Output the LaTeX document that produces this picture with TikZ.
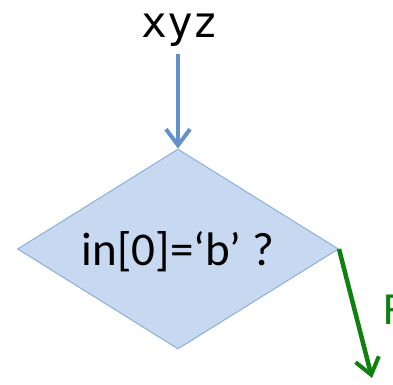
\documentclass[tikz,border=0pt]{standalone}
\usepackage{fontspec}
\setmainfont{Carlito}
\newfontfamily\monofont{DejaVu Sans Mono}
\usetikzlibrary{arrows.meta, shapes.geometric}
\definecolor{boxfill}{RGB}{198,217,240}
\definecolor{boxline}{RGB}{140,175,218}
\definecolor{arrowblue}{RGB}{98,145,203}
\definecolor{arrowgreen}{RGB}{16,128,16}

\begin{document}
\begin{tikzpicture}[x=1pt, y=-1pt, >={Straight Barb[length=16pt, width=24pt, line width=4pt]},
	decision/.style={diamond, draw=boxline, fill=boxfill, line width=1pt, inner sep=0pt, minimum width=321pt, minimum height=200pt},
	flowblue/.style={->, line width=4.5pt, draw=arrowblue},
	flowgreen/.style={->, line width=4.5pt, draw=arrowgreen}]
	\useasboundingbox (0,0) rectangle (393,384);
	\node[font=\monofont\fontsize{43}{43}\selectfont, anchor=base, inner sep=0pt] (in) at (180,37) {xyz};
	\node[decision] (test) at (178,249) {};
	\node[font=\fontsize{47}{47}\selectfont, anchor=base] (cond) at (178,265) {in[0]=‘b’ ?};
	\coordinate (out) at (372,378);
	\draw[flowblue] ([yshift=-8pt]in.south -| test.north) -- (test.north);
	\draw[flowgreen] (test.east) -- (out);
	\node[arrowgreen, anchor=west, font=\fontsize{46}{46}\selectfont] (false) at (380,310) {F};
\end{tikzpicture}
\end{document}
